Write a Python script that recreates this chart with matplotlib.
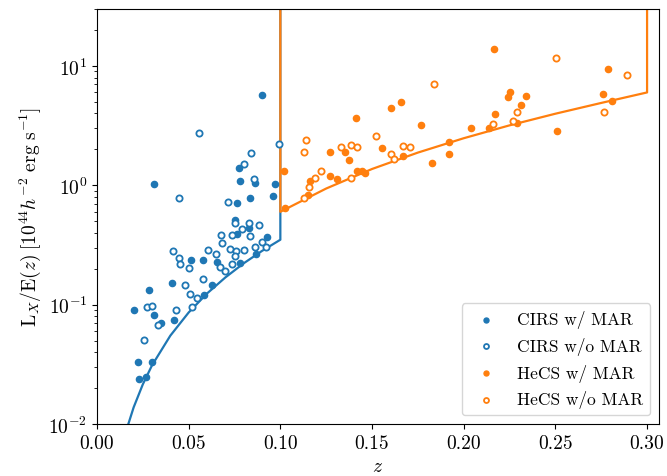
import matplotlib
matplotlib.use("Agg")
import matplotlib.pyplot as plt
import numpy as np

plt.rcParams['font.family'] = 'serif'
plt.rcParams['font.serif'] = ['cmr10']
plt.rcParams['mathtext.fontset'] = 'cm'
plt.rcParams['axes.formatter.use_mathtext'] = True
plt.rcParams['font.size'] = 14
plt.rcParams['axes.unicode_minus'] = False

BLUE = '#1f77b4'
ORANGE = '#ff7f0e'

# CIRS with MAR (filled)
cirs_mar_z = [0.0203, 0.0311, 0.0351, 0.0421, 0.0225, 0.0300, 0.0231, 0.0266, 0.0285, 0.0309,
              0.0407, 0.0513, 0.0580, 0.0653, 0.0629, 0.0583, 0.0780, 0.0869, 0.0927, 0.0765,
              0.0830, 0.0754, 0.0762, 0.0834, 0.0960, 0.0971, 0.0863, 0.0781, 0.0773, 0.0901]
cirs_mar_L = [0.090, 0.082, 0.070, 0.0748, 0.0329, 0.0329, 0.0238, 0.0248, 0.133, 1.02,
              0.152, 0.235, 0.238, 0.228, 0.147, 0.120, 0.224, 0.264, 0.368, 0.390,
              0.439, 0.512, 0.71, 0.79, 0.81, 1.02, 1.04, 1.08, 1.40, 5.66]

# CIRS without MAR (open)
cirs_nomar_z = [0.0271, 0.0302, 0.0334, 0.0431, 0.0516, 0.0256, 0.0447, 0.0414, 0.0449, 0.0454,
                0.0502, 0.0481, 0.0507, 0.0544, 0.0580, 0.0556, 0.0994, 0.0840, 0.0800, 0.0854,
                0.0713, 0.0754, 0.0827, 0.0882, 0.0789, 0.0674, 0.0738, 0.0834, 0.0683, 0.0898,
                0.0862, 0.0921, 0.0725, 0.0758, 0.0800, 0.0605, 0.0647, 0.0752, 0.0672, 0.0734,
                0.0696]
cirs_nomar_L = [0.0948, 0.097, 0.0675, 0.0906, 0.0948, 0.0506, 0.79, 0.282, 0.244, 0.220,
                0.203, 0.147, 0.123, 0.113, 0.164, 2.77, 2.21, 1.87, 1.51, 1.13,
                0.72, 0.48, 0.485, 0.467, 0.428, 0.383, 0.380, 0.378, 0.328, 0.336,
                0.305, 0.302, 0.294, 0.281, 0.288, 0.285, 0.266, 0.255, 0.205, 0.218,
                0.191]

# HeCS with MAR (filled)
hecs_mar_z = [0.1021, 0.1027, 0.1411, 0.1601, 0.1270, 0.1351, 0.1554, 0.1372, 0.1270, 0.1307,
              0.1419, 0.1447, 0.1461, 0.1160, 0.1149, 0.2166, 0.1658, 0.2254, 0.2239, 0.2310,
              0.2172, 0.1765, 0.2038, 0.2137, 0.2290, 0.1918, 0.1918, 0.1827, 0.1668, 0.2338,
              0.2786, 0.2757, 0.2810, 0.2507]
hecs_mar_L = [1.32, 0.641, 3.66, 4.41, 1.89, 1.90, 2.04, 1.64, 1.20, 1.13,
              1.33, 1.32, 1.27, 1.08, 0.83, 14.0, 4.97, 6.07, 5.51, 4.67,
              3.93, 3.19, 3.03, 3.03, 3.30, 2.29, 1.84, 1.54, 1.77, 5.59,
              9.46, 5.77, 5.07, 2.83]

# HeCS without MAR (open)
hecs_nomar_z = [0.1138, 0.1130, 0.1330, 0.1383, 0.1416, 0.1521, 0.1601, 0.1619, 0.1220, 0.1190,
                0.1385, 0.1156, 0.1129, 0.1839, 0.1667, 0.1705, 0.2158, 0.2288, 0.2270, 0.2504,
                0.2891, 0.2763]
hecs_nomar_L = [2.42, 1.90, 2.09, 2.16, 2.10, 2.57, 1.84, 1.66, 1.33, 1.16,
                1.15, 0.97, 0.785, 7.0, 2.14, 2.10, 3.26, 4.10, 3.45, 11.6,
                8.32, 4.13]

# Selection limit curves
cirs_lim_z = [0.0171, 0.02, 0.025, 0.03, 0.04, 0.05, 0.06, 0.07, 0.08, 0.09, 0.10, 0.10]
cirs_lim_L = [0.0100, 0.0138, 0.0215, 0.031, 0.055, 0.086, 0.124, 0.169, 0.222, 0.282, 0.350, 40.0]
hecs_lim_z = [0.10, 0.10, 0.125, 0.15, 0.175, 0.20, 0.225, 0.25, 0.275, 0.30, 0.30]
hecs_lim_L = [40.0, 0.60, 0.94, 1.37, 1.88, 2.48, 3.18, 3.98, 4.90, 6.0, 40.0]

fig = plt.figure(figsize=(6.67, 4.77), dpi=100)
ax = fig.add_axes([0.1454, 0.109, 0.988 - 0.1454, 0.979 - 0.109])

ax.plot(cirs_lim_z, cirs_lim_L, color=BLUE, lw=1.6)
ax.plot(hecs_lim_z, hecs_lim_L, color=ORANGE, lw=1.6)

ax.scatter(cirs_mar_z, cirs_mar_L, s=20, color=BLUE, label='CIRS w/ MAR', zorder=3)
ax.scatter(cirs_nomar_z, cirs_nomar_L, s=20, facecolors='white', edgecolors=BLUE,
           linewidths=1.3, label='CIRS w/o MAR', zorder=3)
ax.scatter(hecs_mar_z, hecs_mar_L, s=20, color=ORANGE, label='HeCS w/ MAR', zorder=3)
ax.scatter(hecs_nomar_z, hecs_nomar_L, s=20, facecolors='white', edgecolors=ORANGE,
           linewidths=1.3, label='HeCS w/o MAR', zorder=3)

ax.set_yscale('log')
ax.set_xlim(0, 0.3065)
ax.set_ylim(1e-2, 30)
ax.set_xticks([0.0, 0.05, 0.10, 0.15, 0.20, 0.25, 0.30])
ax.set_xticklabels(['0.00', '0.05', '0.10', '0.15', '0.20', '0.25', '0.30'])
ax.set_xlabel(r'$z$')
ax.set_ylabel(r'$\mathrm{L}_X/\mathrm{E}(z)\;[10^{44}h^{-2}\ \mathrm{erg\ s^{-1}}]$')
ax.legend(loc='lower right', fontsize=12.5, markerscale=0.8)

fig.savefig('out.png', dpi=100)
